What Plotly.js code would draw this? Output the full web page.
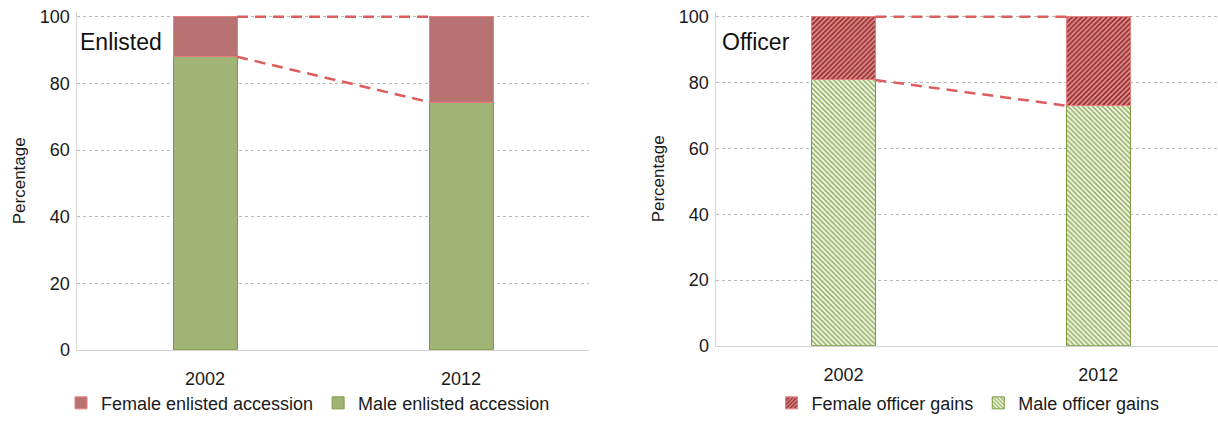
<!DOCTYPE html>
<html>
<head>
<meta charset="utf-8">
<script src="https://cdn.plot.ly/plotly-3.0.1.min.js"></script>
<style>
  html, body { margin: 0; padding: 0; background: #fff; }
  #chart { width: 1218px; height: 422px; }
</style>
</head>
<body>
<div id="chart"></div>
<script>
// Share of accessions / gains by sex, in percent
const years = ['2002', '2012'];
const maleEnlisted = [88.0, 74.4];
const femaleEnlisted = [12.0, 25.6];
const maleOfficer = [80.8, 73.0];
const femaleOfficer = [19.2, 27.0];
const yTicks = [0, 20, 40, 60, 80, 100];

const xPos = years.map((_, i) => i);
const barWidth = 0.25;
const font = 'Liberation Sans, Arial, sans-serif';

const femaleFill = 'rgb(185,114,114)';
const femaleEdge = 'rgb(228,128,128)';
const maleFill = 'rgb(160,181,117)';
const maleEdge = 'rgb(122,154,62)';
const connector = 'rgb(222,92,92)';

// totals of each stack (top of bars)
const totals = (a, b) => a.map((v, i) => v + b[i]);

// dashed series lines joining the stacks, from right edge of one bar to left edge of the next
function seriesLine(yVals, xa, ya) {
  const xs = [], ys = [];
  for (let i = 0; i < yVals.length - 1; i++) {
    xs.push(xPos[i] + barWidth / 2, xPos[i + 1] - barWidth / 2, null);
    ys.push(yVals[i], yVals[i + 1], null);
  }
  return {
    type: 'scatter', mode: 'lines', x: xs, y: ys, xaxis: xa, yaxis: ya,
    line: { color: connector, width: 2.5, dash: '11px,7px' },
    showlegend: false, hoverinfo: 'skip'
  };
}

const traces = [
  {
    type: 'bar', name: 'Male enlisted accession', x: xPos, y: maleEnlisted, width: barWidth,
    xaxis: 'x', yaxis: 'y', legend: 'legend',
    marker: { color: maleFill, line: { color: maleEdge, width: 1 } }
  },
  {
    type: 'bar', name: 'Female enlisted accession', x: xPos, y: femaleEnlisted, width: barWidth,
    xaxis: 'x', yaxis: 'y', legend: 'legend',
    marker: { color: femaleFill, line: { color: femaleEdge, width: 1 } }
  },
  seriesLine(maleEnlisted, 'x', 'y'),
  seriesLine(totals(maleEnlisted, femaleEnlisted), 'x', 'y'),
  {
    type: 'bar', name: 'Male officer gains', x: xPos, y: maleOfficer, width: barWidth,
    xaxis: 'x2', yaxis: 'y2', legend: 'legend2',
    marker: {
      color: 'rgb(150,178,100)',
      line: { color: maleEdge, width: 1 },
      pattern: { shape: '\\', fgcolor: 'rgb(150,178,100)', bgcolor: 'rgb(245,249,236)', size: 3.5, solidity: 0.45, fillmode: 'replace' }
    }
  },
  {
    type: 'bar', name: 'Female officer gains', x: xPos, y: femaleOfficer, width: barWidth,
    xaxis: 'x2', yaxis: 'y2', legend: 'legend2',
    marker: {
      color: 'rgb(165,50,50)',
      line: { color: femaleEdge, width: 1 },
      pattern: { shape: '/', fgcolor: 'rgb(155,42,42)', bgcolor: 'rgb(220,148,148)', size: 3.5, solidity: 0.5, fillmode: 'replace' }
    }
  },
  seriesLine(maleOfficer, 'x2', 'y2'),
  seriesLine(totals(maleOfficer, femaleOfficer), 'x2', 'y2')
];

const W = 1218, H = 422;
const px = v => v / W;
const py = v => (H - v) / H;

// y range slightly above 100 so the top series line is not clipped
const yTop = 101.5;
function yDomain(zeroPx, hundredPx) {
  const perUnit = (zeroPx - hundredPx) / 100;
  return [py(zeroPx), py(zeroPx - yTop * perUnit)];
}

const xBase = {
  tickmode: 'array', tickvals: xPos, ticktext: years,
  showgrid: false, zeroline: false, showline: true,
  linecolor: 'rgb(210,210,210)', linewidth: 1.5,
  ticks: 'outside', ticklen: 12, tickcolor: 'rgba(0,0,0,0)',
  tickfont: { family: font, size: 18, color: '#1a1a1a' }, fixedrange: true
};
const yBase = {
  range: [0, yTop], tickvals: yTicks, showgrid: true, gridcolor: 'rgb(185,185,185)',
  griddash: 'dot', gridwidth: 1, zeroline: false, showline: true,
  linecolor: 'rgb(215,215,215)', linewidth: 1.5, ticks: '',
  tickfont: { family: font, size: 18, color: '#1a1a1a' }, ticklabelstandoff: 2,
  title: { text: 'Percentage', font: { family: font, size: 17, color: '#1a1a1a' }, standoff: 10 },
  fixedrange: true
};

const legendBase = {
  orientation: 'h', xanchor: 'center', yanchor: 'middle', traceorder: 'reversed',
  font: { family: font, size: 18, color: '#1a1a1a' }, bgcolor: 'rgba(0,0,0,0)',
  itemwidth: 30, tracegroupgap: 0
};

const layout = {
  width: W, height: H,
  margin: { l: 0, r: 0, t: 0, b: 0 },
  paper_bgcolor: '#fff', plot_bgcolor: '#fff',
  barmode: 'stack',
  showlegend: true,
  xaxis: Object.assign({}, xBase, { domain: [px(77), px(589)], range: [-0.5, 1.5], anchor: 'y' }),
  yaxis: Object.assign({}, yBase, { domain: yDomain(354, 17), anchor: 'x' }),
  xaxis2: Object.assign({}, xBase, { domain: [px(716), 1], range: [-0.5, 1.47], anchor: 'y2' }),
  yaxis2: Object.assign({}, yBase, { domain: yDomain(350, 17), anchor: 'x2' }),
  legend: Object.assign({}, legendBase, { x: px(308), y: py(408) }),
  legend2: Object.assign({}, legendBase, { x: px(968), y: py(408) }),
  annotations: [
    { text: 'Enlisted', xref: 'paper', yref: 'paper', x: px(78), y: py(43), xanchor: 'left', yanchor: 'middle',
      showarrow: false, font: { family: font, size: 23, color: '#111' } },
    { text: 'Officer', xref: 'paper', yref: 'paper', x: px(720), y: py(43), xanchor: 'left', yanchor: 'middle',
      showarrow: false, font: { family: font, size: 23, color: '#111' } }
  ]
};

Plotly.newPlot('chart', traces, layout, { staticPlot: true, displayModeBar: false });
</script>
</body>
</html>
